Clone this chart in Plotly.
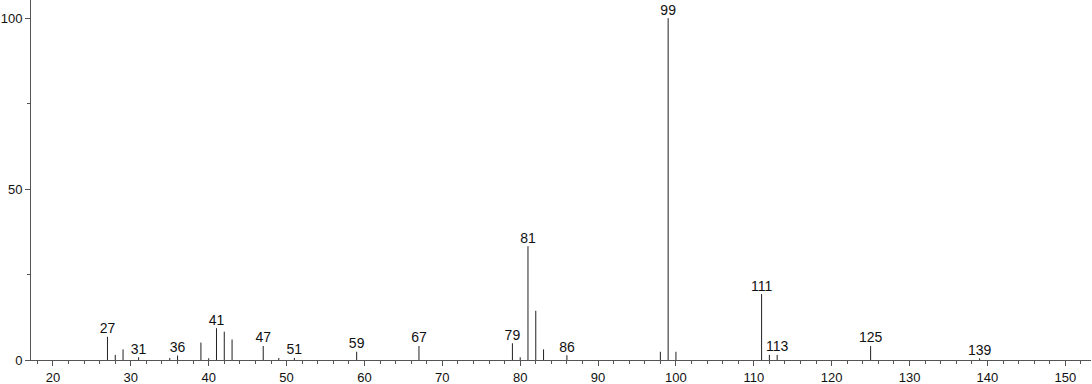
import plotly.graph_objects as go

mz = [27, 28, 29, 31, 35, 36, 39, 40, 41, 42, 43, 47, 49, 51, 59, 67, 79, 80, 81, 82, 83, 86,
      98, 99, 100, 111, 112, 113, 125, 139]
intensity = [6.8, 1.5, 3.1, 0.8, 0.6, 1.3, 5.1, 0.5, 9.3, 8.3, 6.0, 4.1, 0.6, 0.6, 2.4, 4.1, 4.9, 0.8,
             33.3, 14.4, 3.1, 1.4, 2.4, 100, 2.4, 19.3, 1.5, 1.5, 4.1, 0.5]
labeled = [27, 31, 36, 41, 47, 51, 59, 67, 79, 81, 86, 99, 111, 113, 125, 139]

xs, ys = [], []
for m, h in zip(mz, intensity):
    xs += [m, m, None]
    ys += [0, h, None]

lab_x = [m for m in labeled]
lab_y = [intensity[mz.index(m)] for m in labeled]
lab_t = [str(m) for m in labeled]

fig = go.Figure()
fig.add_trace(go.Scatter(x=xs, y=ys, mode="lines", line=dict(color="#222222", width=1),
                         hoverinfo="skip", showlegend=False, cliponaxis=False))
fig.add_trace(go.Scatter(x=lab_x, y=lab_y, mode="text", text=lab_t, textposition="top center",
                         textfont=dict(family="Liberation Sans, Arial", size=14, color="#111111"),
                         showlegend=False, hoverinfo="skip", cliponaxis=False))

fig.update_layout(
    width=1092, height=384,
    margin=dict(l=31, r=1, t=0, b=24, autoexpand=False),
    plot_bgcolor="white", paper_bgcolor="white",
    font=dict(family="Liberation Sans, Arial", size=14, color="#111111"),
    xaxis=dict(range=[17.18, 153.3], showgrid=False, zeroline=False, automargin=False,
               showline=True, linecolor="#555555", linewidth=1,
               tickmode="linear", tick0=0, dtick=10, ticks="outside", ticklen=5,
               tickcolor="#555555", tickfont=dict(size=13),
               minor=dict(dtick=2, tick0=0, ticks="outside", ticklen=3, tickcolor="#555555", showgrid=False)),
    yaxis=dict(range=[0, 105.3], showgrid=False, zeroline=False, automargin=False,
               showline=True, linecolor="#555555", linewidth=1,
               tickmode="linear", tick0=0, dtick=50, ticks="outside", ticklen=5,
               tickcolor="#555555", tickfont=dict(size=13),
               minor=dict(dtick=25, tick0=0, ticks="outside", ticklen=3, tickcolor="#555555", showgrid=False)),
)

fig.write_html("out.html")
